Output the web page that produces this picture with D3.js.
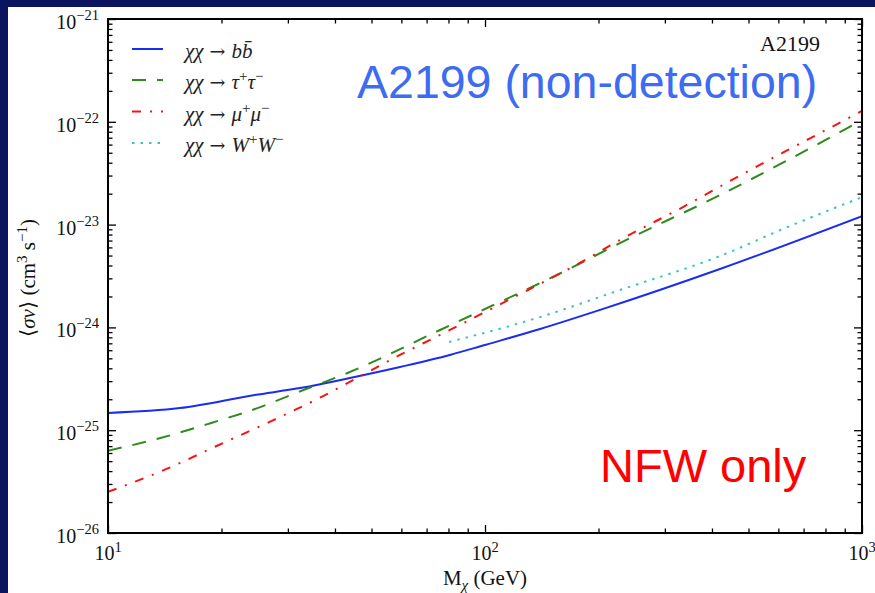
<!DOCTYPE html>
<html><head><meta charset="utf-8">
<script src="https://cdn.jsdelivr.net/npm/d3@7"></script>
<style>body{margin:0;background:#0a145f}svg{display:block}</style>
</head><body>
<script>
// ---- data ----
const massBB   = [10, 15.5, 24.5, 32.3, 43.8, 59.5, 80.7, 100, 140, 202, 420, 1000];
const sigmaBB  = [1.47e-25, 1.64e-25, 2.20e-25, 2.57e-25, 3.22e-25, 4.12e-25, 5.39e-25, 6.75e-25, 9.64e-25, 1.48e-24, 3.70e-24, 1.21e-23];
const massTau  = [10, 13.7, 18.7, 24.8, 33.0, 43.8, 76.0, 100, 149, 243, 412, 644, 1000];
const sigmaTau = [6.32e-26, 8.34e-26, 1.17e-25, 1.63e-25, 2.46e-25, 3.68e-25, 9.44e-25, 1.51e-24, 3.01e-24, 7.41e-24, 1.87e-23, 4.35e-23, 1.04e-22];
const massMu   = [10, 14.3, 19.4, 26.9, 37.2, 43.4, 59.5, 76.0, 100, 130, 181, 228, 336, 460, 631, 857, 1000];
const sigmaMu  = [2.51e-26, 4.20e-26, 7.02e-26, 1.21e-25, 2.15e-25, 2.90e-25, 5.40e-25, 8.44e-25, 1.41e-24, 2.31e-24, 4.36e-24, 7.08e-24, 1.49e-23, 2.82e-23, 5.24e-23, 9.46e-23, 1.28e-22];
const massWW   = [80.3, 140, 228, 420, 617, 1000];
const sigmaWW  = [7.21e-25, 1.26e-24, 2.31e-24, 4.95e-24, 9.06e-24, 1.85e-23];

const xTickValues = [10, 100, 1000];
const xTickExps   = ["1", "2", "3"];
const yTickValues = [1e-21, 1e-22, 1e-23, 1e-24, 1e-25, 1e-26];
const yTickExps   = ["\u221221", "\u221222", "\u221223", "\u221224", "\u221225", "\u221226"];

const seriesNames  = ["bb", "tau", "mu", "ww"];
const seriesColors = ["#1a2cf2", "#2f8a1c", "#ff1010", "#3cc3c3"];
const seriesDash   = [null, "14,11", "9,9,2,9", "2.5,6"];

// ---- layout ----
const W = 875, H = 593;
const L = 108, R = 862, T = 19, B = 533;
const serif = "'Liberation Serif', 'DejaVu Serif', serif";

const svg = d3.select("body").append("svg").attr("width", W).attr("height", H);
svg.append("rect").attr("width", W).attr("height", H).attr("fill", "#0a145f");
svg.append("rect").attr("x", 8).attr("y", 7).attr("width", W - 8).attr("height", H - 7).attr("fill", "#fff");

const x = d3.scaleLog().domain([10, 1000]).range([L, R]);
const y = d3.scaleLog().domain([1e-26, 1e-21]).range([B, T]);

svg.append("clipPath").attr("id", "clip").append("rect")
  .attr("x", L).attr("y", T).attr("width", R - L).attr("height", B - T);

// minor ticks
const minorX = [];
[10, 100].forEach(d => { for (let k = 2; k <= 9; k++) minorX.push(d * k); });
const minorY = [];
[1e-26, 1e-25, 1e-24, 1e-23, 1e-22].forEach(d => { for (let k = 2; k <= 9; k++) minorY.push(d * k); });

function tickAxis(gen, tr, vals, size) {
  const g = svg.append("g").attr("transform", tr)
    .call(gen.tickValues(vals).tickSize(-size).tickFormat(""));
  g.select(".domain").remove();
  g.selectAll(".tick line").attr("stroke", "#000").attr("stroke-width", 1.3);
}
tickAxis(d3.axisBottom(x), `translate(0,${B})`, xTickValues, 8);
tickAxis(d3.axisBottom(x), `translate(0,${B})`, minorX, 4.5);
tickAxis(d3.axisTop(x), `translate(0,${T})`, xTickValues, 8);
tickAxis(d3.axisTop(x), `translate(0,${T})`, minorX, 4.5);
tickAxis(d3.axisLeft(y), `translate(${L},0)`, yTickValues, 8);
tickAxis(d3.axisLeft(y), `translate(${L},0)`, minorY, 4.5);
tickAxis(d3.axisRight(y), `translate(${R},0)`, yTickValues, 8);
tickAxis(d3.axisRight(y), `translate(${R},0)`, minorY, 4.5);

// curves
const series = [
  massBB.map((m, i) => [m, sigmaBB[i]]),
  massTau.map((m, i) => [m, sigmaTau[i]]),
  massMu.map((m, i) => [m, sigmaMu[i]]),
  massWW.map((m, i) => [m, sigmaWW[i]])
];
const line = d3.line().x(d => x(d[0])).y(d => y(d[1])).curve(d3.curveMonotoneX);
const cg = svg.append("g").attr("clip-path", "url(#clip)");
series.forEach((s, i) => {
  cg.append("path").attr("d", line(s)).attr("fill", "none")
    .attr("stroke", seriesColors[i]).attr("stroke-width", 2)
    .attr("stroke-dasharray", seriesDash[i]);
});

// frame
svg.append("rect").attr("x", L).attr("y", T).attr("width", R - L).attr("height", B - T)
  .attr("fill", "none").attr("stroke", "#000").attr("stroke-width", 2);

// y tick labels
yTickValues.forEach((v, i) => {
  const t = svg.append("text").attr("x", 99).attr("y", y(v) + 10)
    .attr("text-anchor", "end").attr("font-family", serif).attr("font-size", 20).attr("fill", "#111");
  t.append("tspan").text("10");
  t.append("tspan").attr("dy", -9).attr("font-size", 14.5).text(yTickExps[i]);
});
// x tick labels
xTickValues.forEach((v, i) => {
  const t = svg.append("text").attr("x", x(v)).attr("y", 560)
    .attr("text-anchor", "middle").attr("font-family", serif).attr("font-size", 20).attr("fill", "#111");
  t.append("tspan").text("10");
  t.append("tspan").attr("dy", -8).attr("font-size", 14.5).text(xTickExps[i]);
});

// axis labels
const xl = svg.append("text").attr("x", (L + R) / 2).attr("y", 585).attr("text-anchor", "middle")
  .attr("font-family", serif).attr("font-size", 21).attr("fill", "#111");
xl.append("tspan").text("M");
xl.append("tspan").attr("dy", 5).attr("font-size", 15).attr("font-style", "italic").text("\u03c7");
xl.append("tspan").attr("dy", -5).text(" (GeV)");

const yl = svg.append("text").attr("transform", `translate(35,${(T + B) / 2 + 2}) rotate(-90)`)
  .attr("text-anchor", "middle").attr("font-family", serif).attr("font-size", 21).attr("fill", "#111");
yl.append("tspan").text("\u27e8");
yl.append("tspan").attr("font-style", "italic").text("\u03c3v");
yl.append("tspan").text("\u27e9 (cm");
yl.append("tspan").attr("dy", -8).attr("font-size", 15).text("3");
yl.append("tspan").attr("dy", 8).text(" s");
yl.append("tspan").attr("dy", -8).attr("font-size", 15).text("\u22121");
yl.append("tspan").attr("dy", 8).text(")");

// legend
const legendY = [49, 80, 111.5, 143];
const legendParts = [
  [["\u03c7\u03c7", "i"], [" \u2192 ", "a"], ["b", "i"], ["b\u0304", "i"]],
  [["\u03c7\u03c7", "i"], [" \u2192 ", "a"], ["\u03c4", "i"], ["+", "sup"], ["\u03c4", "i"], ["\u2212", "sup"]],
  [["\u03c7\u03c7", "i"], [" \u2192 ", "a"], ["\u03bc", "i"], ["+", "sup"], ["\u03bc", "i"], ["\u2212", "sup"]],
  [["\u03c7\u03c7", "i"], [" \u2192 ", "a"], ["W", "i"], ["+", "sup"], ["W", "i"], ["\u2212", "sup"]]
];
seriesNames.forEach((n, i) => {
  svg.append("line").attr("x1", 132).attr("x2", 163).attr("y1", legendY[i]).attr("y2", legendY[i])
    .attr("stroke", seriesColors[i]).attr("stroke-width", 2).attr("stroke-dasharray", seriesDash[i]);
  const t = svg.append("text").attr("x", 185).attr("y", legendY[i] + 9)
    .attr("font-family", serif).attr("font-size", 21).attr("fill", "#222");
  let up = false;
  legendParts[i].forEach(([s, k]) => {
    const sp = t.append("tspan").text(s);
    if (k === "i") sp.attr("font-style", "italic");
    if (k === "a") sp.attr("font-family", "'DejaVu Serif', serif").attr("font-size", 19);
    if (k === "sup") { sp.attr("dy", -8).attr("font-size", 15); up = true; }
    else if (up) { sp.attr("dy", 8); up = false; }
  });
});

// annotations
svg.append("text").attr("x", 820).attr("y", 51).attr("text-anchor", "end")
  .attr("font-family", serif).attr("font-size", 22).attr("fill", "#111").text("A2199");
svg.append("text").attr("x", 357).attr("y", 98)
  .attr("font-family", "'Liberation Sans', Arial, sans-serif").attr("font-size", 46.5).attr("fill", "#3d6cf0")
  .text("A2199 (non-detection)");
svg.append("text").attr("x", 600).attr("y", 482)
  .attr("font-family", "'Liberation Sans', Arial, sans-serif").attr("font-size", 47).attr("fill", "#ff0000")
  .text("NFW only");
</script>
</body></html>
